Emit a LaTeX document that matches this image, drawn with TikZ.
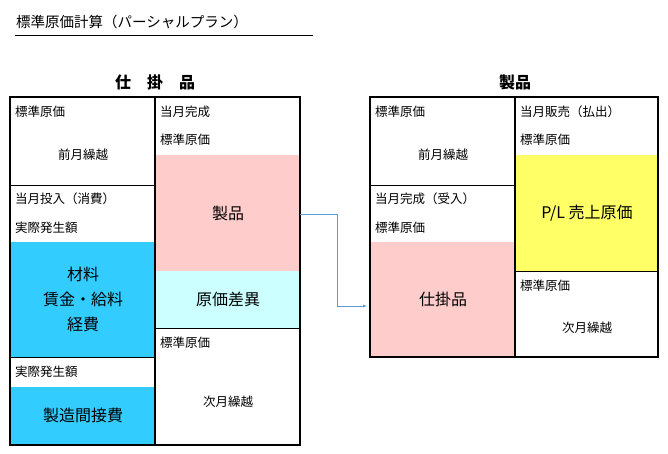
\documentclass[tikz,border=0pt]{standalone}
\usepackage{fontspec}
\setmainfont{Noto Sans CJK JP}
\usepackage{tikz}
\usetikzlibrary{positioning}
\definecolor{pinkfill}{HTML}{FFCCCC}
\definecolor{bluefill}{HTML}{33CCFF}
\definecolor{cyanfill}{HTML}{CCFFFF}
\definecolor{yellowfill}{HTML}{FFFF66}
\definecolor{arrowblue}{HTML}{5B9BD5}
\tikzset{
  lbl/.style={anchor=west,font=\fontsize{12.5}{14}\selectfont,inner sep=0pt},
  mid/.style={font=\fontsize{12.5}{14}\selectfont,inner sep=0pt},
  big/.style={font=\fontsize{16}{25}\selectfont,align=center,inner sep=0pt},
  head/.style={font=\bfseries\fontsize{16}{18}\selectfont,inner sep=0pt},
  acct/.style={line width=1.5pt}
}
\begin{document}
\begin{tikzpicture}[x=1pt,y=-1pt]
        \useasboundingbox (0,0) rectangle (668,453);
        % title
        \node [anchor=west,font=\fontsize{14.5}{16}\selectfont,inner sep=0pt] (title) at (16,22) {標準原価計算（パーシャルプラン）};
        \draw (15,35) -- (313,35);
        % work in process
        \fill [bluefill] (10,242) rectangle (155,357);
        \fill [bluefill] (10,387) rectangle (155,445);
        \fill [pinkfill] (155,155) rectangle (300,271);
        \fill [cyanfill] (155,271) rectangle (300,328);
        \draw [acct] (10,97) rectangle (300,445);
        \draw [acct] (155,97) -- (155,445);
        \draw (10,185) -- (155,185);
        \draw (10,357) -- (155,357);
        \draw (155,328) -- (300,328);
        \node [head] (wip) at (155,82) {仕　掛　品};
        \node [lbl] at (15,112) {標準原価};
        \node [mid] at (83,155) {前月繰越};
        \node [lbl] at (15,199) {当月投入（消費）};
        \node [lbl] at (15,228) {実際発生額};
        \node [big] at (83,299) {材料\\賃金・給料\\経費};
        \node [lbl] at (15,372) {実際発生額};
        \node [big] at (83,415) {製造間接費};
        \node [lbl] at (160,112) {当月完成};
        \node [lbl] at (160,140) {標準原価};
        \node [big] (wipout) at (228,213) {製品};
        \node [big] at (228,299) {原価差異};
        \node [lbl] at (160,343) {標準原価};
        \node [mid] at (228,402) {次月繰越};
        % finished goods
        \fill [pinkfill] (370,242) rectangle (515,357);
        \fill [yellowfill] (515,155) rectangle (658,271);
        \draw [acct] (370,97) rectangle (658,357);
        \draw [acct] (515,97) -- (515,357);
        \draw (370,185) -- (515,185);
        \draw (515,271) -- (658,271);
        \node [head] (fg) at (515,82) {製品};
        \node [lbl] at (375,112) {標準原価};
        \node [mid] at (443,155) {前月繰越};
        \node [lbl] at (375,199) {当月完成（受入）};
        \node [lbl] at (375,228) {標準原価};
        \node [big] (fgin) at (443,299) {仕掛品};
        \node [lbl] at (520,112) {当月販売（払出）};
        \node [lbl] at (520,140) {標準原価};
        \node [big] at (587,213) {P/L 売上原価};
        \node [lbl] at (520,286) {標準原価};
        \node [mid] at (587,328) {次月繰越};
        % transfer
        \coordinate (out) at (300,214);
        \coordinate (in) at (367,306);
        \draw [arrowblue,-latex] (out) -| (337,306) -- (in);
\end{tikzpicture}
\end{document}
